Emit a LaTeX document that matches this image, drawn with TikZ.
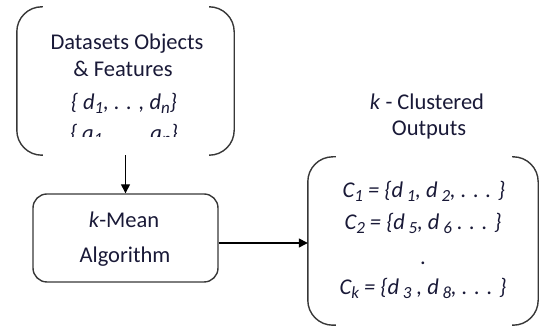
\documentclass[tikz,border=0pt]{standalone}
\usepackage{fontspec}
\setmainfont{Carlito}
\usetikzlibrary{arrows.meta}
\definecolor{txt}{RGB}{25,25,55}
\definecolor{edge}{RGB}{55,55,55}
\newcommand{\sbx}[1]{\raisebox{-0.35ex}{\fontsize{17}{17}\selectfont #1}}
\begin{document}
\begin{tikzpicture}[x=1pt,y=-1pt,
  lbl/.style={text=txt, font=\fontsize{22.5}{27}\selectfont, inner sep=0pt, anchor=base},
  frame/.style={draw=edge, line width=1.4pt, rounded corners=25pt},
  boxst/.style={draw=edge, line width=1.4pt, rounded corners=14pt, inner sep=0pt},
  arr/.style={draw=black, line width=1.4pt, -{Triangle[length=9pt,width=9pt]}}]
\useasboundingbox (0,0) rectangle (542,328);
% input bracket frame
\node[minimum width=217pt, minimum height=148pt, inner sep=0pt] (input) at (125.5,81) {};
\draw[frame] ([xshift=26pt]input.north west) -- (input.north west) -- (input.south west) -- ([xshift=26pt]input.south west);
\draw[frame] ([xshift=-24pt]input.north east) -- (input.north east) -- (input.south east) -- ([xshift=-24pt]input.south east);
\node[lbl] (i1) at (127,50) {Datasets Objects};
\node[lbl] (i2) at (123,77) {\& Features};
\node[lbl] (i3) at (124,110) {\itshape \{ d\sbx{1}, . . , d\sbx{n}\}};
\begin{scope}
\clip (0,0) rectangle (542,137);
\node[lbl] (i4) at (124,141) {\itshape \{ a\sbx{1}, . . . a\sbx{n}\}};
\end{scope}
% k-mean box
\node[boxst, minimum width=185pt, minimum height=88pt] (kmean) at (125.5,238) {};
\node[lbl] (k1) at (124,228) {\textit{k}-Mean};
\node[lbl] (k2) at (125,263) {Algorithm};
% output frame
\node[minimum width=230pt, minimum height=168pt, inner sep=0pt] (output) at (423,241) {};
\draw[frame] ([xshift=28pt]output.north west) -- (output.north west) -- (output.south west) -- ([xshift=28pt]output.south west);
\draw[frame] ([xshift=-26pt]output.north east) -- (output.north east) -- (output.south east) -- ([xshift=-26pt]output.south east);
\node[lbl] (o1) at (427,110) {\textit{k} - Clustered};
\node[lbl] (o2) at (429,136) {Outputs};
\node[lbl] (c1) at (424,198) {\itshape C\sbx{1} = \{d\,\sbx{1}, d\,\sbx{2}, . . . \}};
\node[lbl] (c2) at (423,230) {\itshape C\sbx{2} = \{d\,\sbx{5}, d\,\sbx{6} . . . \}};
\node[lbl] (c3) at (423,265) {.};
\node[lbl] (c4) at (423,295) {\itshape C\sbx{k} = \{d\,\sbx{3} , d\,\sbx{8}, . . . \}};
% connectors
\draw[arr] (input.south) -- (kmean.north);
\draw[arr] ([yshift=-5pt]kmean.east) -- ([yshift=-5pt]kmean.east -| output.west);
\end{tikzpicture}
\end{document}
